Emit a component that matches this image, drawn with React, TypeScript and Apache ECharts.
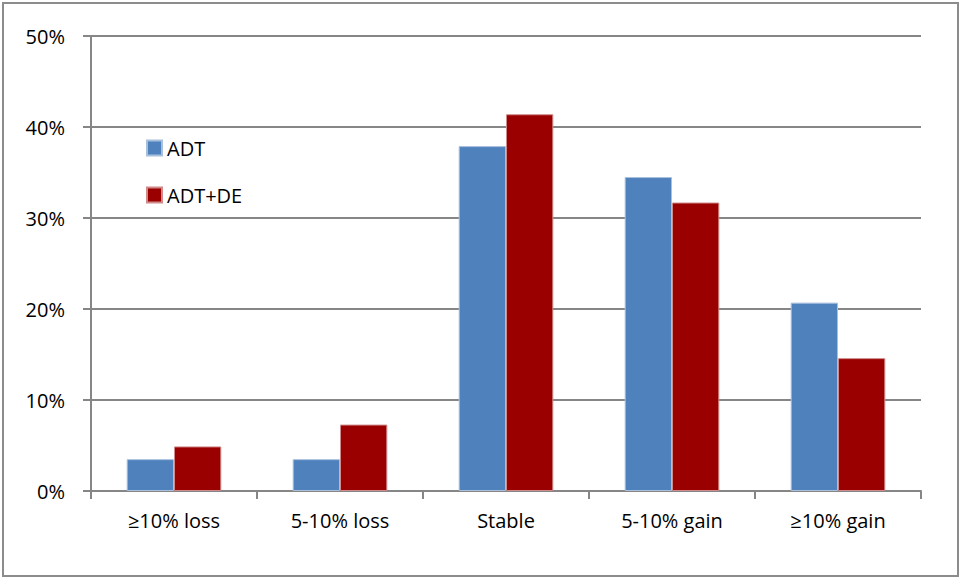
import React, { useEffect, useRef } from "react";
import * as echarts from "echarts";

const categories = ["≥10% loss", "5-10% loss", "Stable", "5-10% gain", "≥10% gain"];
const adt = [3.5, 3.5, 37.9, 34.5, 20.7];
const adtDe = [4.9, 7.3, 41.4, 31.7, 14.6];
const seriesNames = ["ADT", "ADT+DE"];
const yTicks = { min: 0, max: 50, interval: 10 };

const FONT = "'Open Sans', Lato, sans-serif";
const FS = 20;

export default function App() {
  const ref = useRef<HTMLDivElement>(null);
  useEffect(() => {
    if (!ref.current) return;
    const chart = echarts.init(ref.current, undefined, { renderer: "svg" });
    chart.setOption({
      animation: false,
      backgroundColor: "#ffffff",
      textStyle: { fontFamily: FONT },
      graphic: [
        {
          type: "rect",
          shape: { x: 3, y: 3, width: 955, height: 573 },
          style: { fill: "none", stroke: "#8c8c8c", lineWidth: 2 },
          silent: true,
        },
      ],
      grid: { left: 91, right: 42, top: 36, bottom: 88, containLabel: false },
      legend: {
        orient: "vertical",
        left: 146,
        top: 138,
        padding: 0,
        itemWidth: 15,
        itemHeight: 15,
        itemGap: 27,
        icon: "rect",
        textStyle: { fontFamily: FONT, fontSize: FS, color: "#000", lineHeight: 15 },
        data: seriesNames,
      },
      xAxis: {
        type: "category",
        data: categories,
        axisLine: { lineStyle: { color: "#868686", width: 2 } },
        axisTick: { show: true, length: 8, lineStyle: { color: "#868686", width: 2 }, alignWithLabel: false },
        axisLabel: { color: "#000", fontSize: FS, fontFamily: FONT, margin: 19 },
      },
      yAxis: {
        type: "value",
        min: yTicks.min,
        max: yTicks.max,
        interval: yTicks.interval,
        axisLine: { show: true, lineStyle: { color: "#868686", width: 2 } },
        axisTick: { show: true, length: 8, lineStyle: { color: "#868686", width: 2 } },
        splitLine: { show: true, lineStyle: { color: "#868686", width: 2 } },
        axisLabel: { color: "#000", fontSize: FS, fontFamily: FONT, margin: 26, formatter: "{value}%" },
      },
      series: [
        {
          name: seriesNames[0],
          type: "bar",
          data: adt,
          barGap: "0%",
          barCategoryGap: "43%",
          itemStyle: { color: "#4F81BD", borderColor: "#a9c0dd", borderWidth: 1 },
        },
        {
          name: seriesNames[1],
          type: "bar",
          data: adtDe,
          barGap: "0%",
          barCategoryGap: "43%",
          itemStyle: { color: "#9A0000", borderColor: "#d08a8a", borderWidth: 1 },
        },
      ],
    });
    return () => chart.dispose();
  }, []);
  return (
    <div
      ref={ref}
      style={{ position: "fixed", left: 0, top: 0, width: 963, height: 579 }}
    />
  );
}
